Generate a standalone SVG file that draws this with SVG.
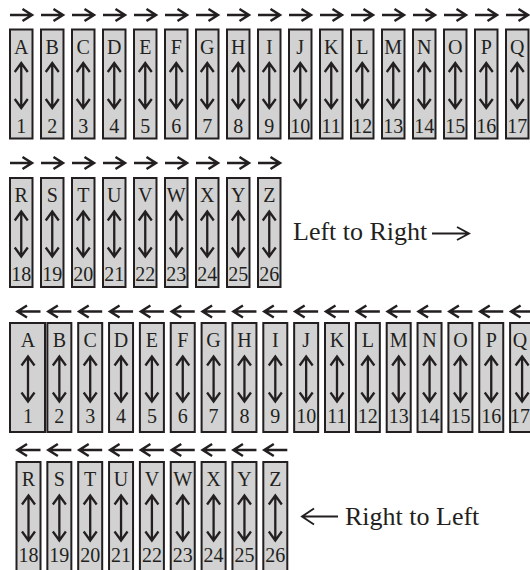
<svg xmlns="http://www.w3.org/2000/svg" xmlns:xlink="http://www.w3.org/1999/xlink" width="530" height="570" viewBox="0 0 530 570">
<style>
rect{fill:#d2d2d2;stroke:#231f20;stroke-width:2}
text{font-family:"Liberation Serif","Times New Roman",serif;font-size:20px;fill:#231f20;text-anchor:middle}
.lbl{font-size:26px;text-anchor:start}
.ln{fill:none;stroke:#231f20;stroke-width:2.5;stroke-linecap:butt;stroke-linejoin:miter}
.dv{fill:none;stroke:#231f20;stroke-width:2.3;stroke-linejoin:miter}
.thin{fill:none;stroke:#231f20;stroke-width:1.9}
</style>
<defs>
<path id="dv" class="dv" d="M0,35 V77 M-6.5,42.5 L0,33.5 L6.5,42.5 M-6.5,69.5 L0,78.5 L6.5,69.5"/>
<path id="ar" class="ln" d="M0,0 H22 M12.5,-6 L22,0 L12.5,6"/>
<path id="al" class="ln" d="M1,0 H24 M10.5,-6 L1,0 L10.5,6"/>
</defs>
<g id="connectors">
<use href="#ar" x="10" y="15"/><use href="#ar" x="41" y="15"/><use href="#ar" x="72" y="15"/><use href="#ar" x="103" y="15"/><use href="#ar" x="134" y="15"/><use href="#ar" x="165" y="15"/><use href="#ar" x="196" y="15"/><use href="#ar" x="227" y="15"/><use href="#ar" x="258" y="15"/><use href="#ar" x="289" y="15"/><use href="#ar" x="320" y="15"/><use href="#ar" x="351" y="15"/><use href="#ar" x="382" y="15"/><use href="#ar" x="413" y="15"/><use href="#ar" x="444" y="15"/><use href="#ar" x="475" y="15"/><use href="#ar" x="506" y="15"/>
<use href="#ar" x="10" y="163"/><use href="#ar" x="41" y="163"/><use href="#ar" x="72" y="163"/><use href="#ar" x="103" y="163"/><use href="#ar" x="134" y="163"/><use href="#ar" x="165" y="163"/><use href="#ar" x="196" y="163"/><use href="#ar" x="227" y="163"/><use href="#ar" x="258" y="163"/>
<use href="#al" x="16.5" y="311.5"/><use href="#al" x="47.35" y="311.5"/><use href="#al" x="78.2" y="311.5"/><use href="#al" x="109.05" y="311.5"/><use href="#al" x="139.9" y="311.5"/><use href="#al" x="170.75" y="311.5"/><use href="#al" x="201.6" y="311.5"/><use href="#al" x="232.45" y="311.5"/><use href="#al" x="263.3" y="311.5"/><use href="#al" x="294.15" y="311.5"/><use href="#al" x="325" y="311.5"/><use href="#al" x="355.85" y="311.5"/><use href="#al" x="386.7" y="311.5"/><use href="#al" x="417.55" y="311.5"/><use href="#al" x="448.4" y="311.5"/><use href="#al" x="479.25" y="311.5"/><use href="#al" x="510.1" y="311.5"/>
<use href="#al" x="16.5" y="450"/><use href="#al" x="47.35" y="450"/><use href="#al" x="78.2" y="450"/><use href="#al" x="109.05" y="450"/><use href="#al" x="139.9" y="450"/><use href="#al" x="170.75" y="450"/><use href="#al" x="201.6" y="450"/><use href="#al" x="232.45" y="450"/><use href="#al" x="263.3" y="450"/>
</g>
<g id="row1">
<g id="r1A" transform="translate(10,29.5)"><rect width="22.5" height="109"/><text x="11.25" y="24">A</text><use href="#dv" x="11.25"/><text x="11.25" y="103">1</text></g>
<g id="r1B" transform="translate(41,29.5)"><rect width="22.5" height="109"/><text x="11.25" y="24">B</text><use href="#dv" x="11.25"/><text x="11.25" y="103">2</text></g>
<g id="r1C" transform="translate(72,29.5)"><rect width="22.5" height="109"/><text x="11.25" y="24">C</text><use href="#dv" x="11.25"/><text x="11.25" y="103">3</text></g>
<g id="r1D" transform="translate(103,29.5)"><rect width="22.5" height="109"/><text x="11.25" y="24">D</text><use href="#dv" x="11.25"/><text x="11.25" y="103">4</text></g>
<g id="r1E" transform="translate(134,29.5)"><rect width="22.5" height="109"/><text x="11.25" y="24">E</text><use href="#dv" x="11.25"/><text x="11.25" y="103">5</text></g>
<g id="r1F" transform="translate(165,29.5)"><rect width="22.5" height="109"/><text x="11.25" y="24">F</text><use href="#dv" x="11.25"/><text x="11.25" y="103">6</text></g>
<g id="r1G" transform="translate(196,29.5)"><rect width="22.5" height="109"/><text x="11.25" y="24">G</text><use href="#dv" x="11.25"/><text x="11.25" y="103">7</text></g>
<g id="r1H" transform="translate(227,29.5)"><rect width="22.5" height="109"/><text x="11.25" y="24">H</text><use href="#dv" x="11.25"/><text x="11.25" y="103">8</text></g>
<g id="r1I" transform="translate(258,29.5)"><rect width="22.5" height="109"/><text x="11.25" y="24">I</text><use href="#dv" x="11.25"/><text x="11.25" y="103">9</text></g>
<g id="r1J" transform="translate(289,29.5)"><rect width="22.5" height="109"/><text x="11.25" y="24">J</text><use href="#dv" x="11.25"/><text x="11.25" y="103">10</text></g>
<g id="r1K" transform="translate(320,29.5)"><rect width="22.5" height="109"/><text x="11.25" y="24">K</text><use href="#dv" x="11.25"/><text x="11.25" y="103">11</text></g>
<g id="r1L" transform="translate(351,29.5)"><rect width="22.5" height="109"/><text x="11.25" y="24">L</text><use href="#dv" x="11.25"/><text x="11.25" y="103">12</text></g>
<g id="r1M" transform="translate(382,29.5)"><rect width="22.5" height="109"/><text x="11.25" y="24">M</text><use href="#dv" x="11.25"/><text x="11.25" y="103">13</text></g>
<g id="r1N" transform="translate(413,29.5)"><rect width="22.5" height="109"/><text x="11.25" y="24">N</text><use href="#dv" x="11.25"/><text x="11.25" y="103">14</text></g>
<g id="r1O" transform="translate(444,29.5)"><rect width="22.5" height="109"/><text x="11.25" y="24">O</text><use href="#dv" x="11.25"/><text x="11.25" y="103">15</text></g>
<g id="r1P" transform="translate(475,29.5)"><rect width="22.5" height="109"/><text x="11.25" y="24">P</text><use href="#dv" x="11.25"/><text x="11.25" y="103">16</text></g>
<g id="r1Q" transform="translate(506,29.5)"><rect width="22.5" height="109"/><text x="11.25" y="24">Q</text><use href="#dv" x="11.25"/><text x="11.25" y="103">17</text></g>
</g>
<g id="row2">
<g id="r2R" transform="translate(10,178)"><rect width="22.5" height="109"/><text x="11.25" y="24">R</text><use href="#dv" x="11.25"/><text x="11.25" y="103">18</text></g>
<g id="r2S" transform="translate(41,178)"><rect width="22.5" height="109"/><text x="11.25" y="24">S</text><use href="#dv" x="11.25"/><text x="11.25" y="103">19</text></g>
<g id="r2T" transform="translate(72,178)"><rect width="22.5" height="109"/><text x="11.25" y="24">T</text><use href="#dv" x="11.25"/><text x="11.25" y="103">20</text></g>
<g id="r2U" transform="translate(103,178)"><rect width="22.5" height="109"/><text x="11.25" y="24">U</text><use href="#dv" x="11.25"/><text x="11.25" y="103">21</text></g>
<g id="r2V" transform="translate(134,178)"><rect width="22.5" height="109"/><text x="11.25" y="24">V</text><use href="#dv" x="11.25"/><text x="11.25" y="103">22</text></g>
<g id="r2W" transform="translate(165,178)"><rect width="22.5" height="109"/><text x="11.25" y="24">W</text><use href="#dv" x="11.25"/><text x="11.25" y="103">23</text></g>
<g id="r2X" transform="translate(196,178)"><rect width="22.5" height="109"/><text x="11.25" y="24">X</text><use href="#dv" x="11.25"/><text x="11.25" y="103">24</text></g>
<g id="r2Y" transform="translate(227,178)"><rect width="22.5" height="109"/><text x="11.25" y="24">Y</text><use href="#dv" x="11.25"/><text x="11.25" y="103">25</text></g>
<g id="r2Z" transform="translate(258,178)"><rect width="22.5" height="109"/><text x="11.25" y="24">Z</text><use href="#dv" x="11.25"/><text x="11.25" y="103">26</text></g>
</g>
<g id="label-ltr">
<text class="lbl" x="293" y="240">Left to Right</text>
<path class="thin" d="M432,233.5 H469 M457,227 L469,233.5 L457,240"/>
</g>
<g id="row3">
<g id="r3A" transform="translate(10,323)"><rect width="35" height="109"/><text x="18" y="24">A</text><use href="#dv" x="18"/><text x="18" y="100">1</text></g>
<g id="r3B" transform="translate(47.35,323)"><rect width="24" height="109"/><text x="12" y="24">B</text><use href="#dv" x="12"/><text x="12" y="100">2</text></g>
<g id="r3C" transform="translate(78.2,323)"><rect width="24" height="109"/><text x="12" y="24">C</text><use href="#dv" x="12"/><text x="12" y="100">3</text></g>
<g id="r3D" transform="translate(109.05,323)"><rect width="24" height="109"/><text x="12" y="24">D</text><use href="#dv" x="12"/><text x="12" y="100">4</text></g>
<g id="r3E" transform="translate(139.9,323)"><rect width="24" height="109"/><text x="12" y="24">E</text><use href="#dv" x="12"/><text x="12" y="100">5</text></g>
<g id="r3F" transform="translate(170.75,323)"><rect width="24" height="109"/><text x="12" y="24">F</text><use href="#dv" x="12"/><text x="12" y="100">6</text></g>
<g id="r3G" transform="translate(201.6,323)"><rect width="24" height="109"/><text x="12" y="24">G</text><use href="#dv" x="12"/><text x="12" y="100">7</text></g>
<g id="r3H" transform="translate(232.45,323)"><rect width="24" height="109"/><text x="12" y="24">H</text><use href="#dv" x="12"/><text x="12" y="100">8</text></g>
<g id="r3I" transform="translate(263.3,323)"><rect width="24" height="109"/><text x="12" y="24">I</text><use href="#dv" x="12"/><text x="12" y="100">9</text></g>
<g id="r3J" transform="translate(294.15,323)"><rect width="24" height="109"/><text x="12" y="24">J</text><use href="#dv" x="12"/><text x="12" y="100">10</text></g>
<g id="r3K" transform="translate(325,323)"><rect width="24" height="109"/><text x="12" y="24">K</text><use href="#dv" x="12"/><text x="12" y="100">11</text></g>
<g id="r3L" transform="translate(355.85,323)"><rect width="24" height="109"/><text x="12" y="24">L</text><use href="#dv" x="12"/><text x="12" y="100">12</text></g>
<g id="r3M" transform="translate(386.7,323)"><rect width="24" height="109"/><text x="12" y="24">M</text><use href="#dv" x="12"/><text x="12" y="100">13</text></g>
<g id="r3N" transform="translate(417.55,323)"><rect width="24" height="109"/><text x="12" y="24">N</text><use href="#dv" x="12"/><text x="12" y="100">14</text></g>
<g id="r3O" transform="translate(448.4,323)"><rect width="24" height="109"/><text x="12" y="24">O</text><use href="#dv" x="12"/><text x="12" y="100">15</text></g>
<g id="r3P" transform="translate(479.25,323)"><rect width="24" height="109"/><text x="12" y="24">P</text><use href="#dv" x="12"/><text x="12" y="100">16</text></g>
<g id="r3Q" transform="translate(510.1,323)"><rect width="24" height="109"/><text x="10" y="24">Q</text><use href="#dv" x="12"/><text x="9.9" y="100">17</text></g>
</g>
<g id="row4">
<g id="r4R" transform="translate(16.5,462)"><rect width="24" height="109"/><text x="12" y="24">R</text><use href="#dv" x="12"/><text x="12" y="100">18</text></g>
<g id="r4S" transform="translate(47.35,462)"><rect width="24" height="109"/><text x="12" y="24">S</text><use href="#dv" x="12"/><text x="12" y="100">19</text></g>
<g id="r4T" transform="translate(78.2,462)"><rect width="24" height="109"/><text x="12" y="24">T</text><use href="#dv" x="12"/><text x="12" y="100">20</text></g>
<g id="r4U" transform="translate(109.05,462)"><rect width="24" height="109"/><text x="12" y="24">U</text><use href="#dv" x="12"/><text x="12" y="100">21</text></g>
<g id="r4V" transform="translate(139.9,462)"><rect width="24" height="109"/><text x="12" y="24">V</text><use href="#dv" x="12"/><text x="12" y="100">22</text></g>
<g id="r4W" transform="translate(170.75,462)"><rect width="24" height="109"/><text x="12" y="24">W</text><use href="#dv" x="12"/><text x="12" y="100">23</text></g>
<g id="r4X" transform="translate(201.6,462)"><rect width="24" height="109"/><text x="12" y="24">X</text><use href="#dv" x="12"/><text x="12" y="100">24</text></g>
<g id="r4Y" transform="translate(232.45,462)"><rect width="24" height="109"/><text x="12" y="24">Y</text><use href="#dv" x="12"/><text x="12" y="100">25</text></g>
<g id="r4Z" transform="translate(263.3,462)"><rect width="24" height="109"/><text x="12" y="24">Z</text><use href="#dv" x="12"/><text x="12" y="100">26</text></g>
</g>
<g id="label-rtl">
<path class="thin" d="M302,516.5 H338 M314,508.5 L302,516.5 L314,524.5"/>
<text class="lbl" x="345" y="525">Right to Left</text>
</g>
</svg>
